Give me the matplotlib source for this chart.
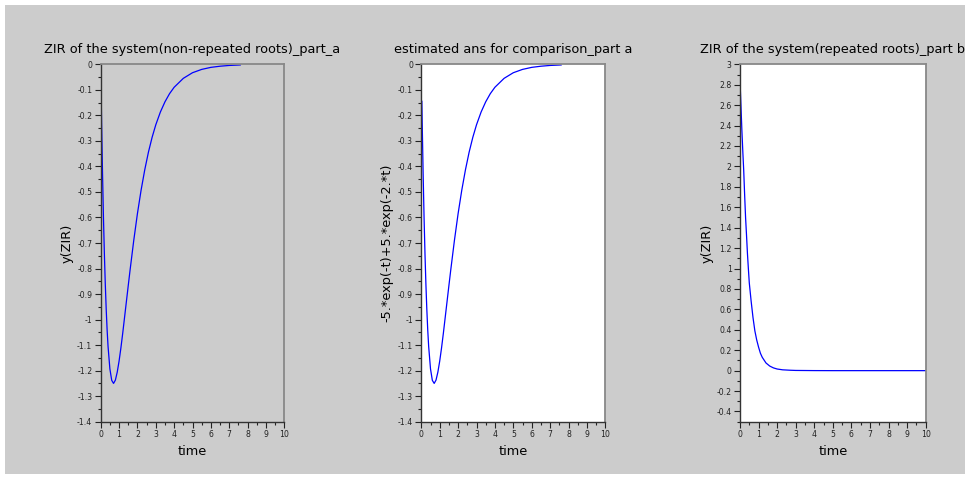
import numpy as np
import matplotlib
matplotlib.use("Agg")
import matplotlib.pyplot as plt
from matplotlib.patches import Rectangle
from matplotlib.ticker import MultipleLocator, FuncFormatter

# ---- data ----
t_a = [0, 0.05, 0.1, 0.15, 0.2, 0.25, 0.3, 0.35, 0.4, 0.5, 0.6, 0.7, 0.8, 0.9, 1.0,
       1.1, 1.2, 1.3, 1.4, 1.5, 1.6, 1.8, 2.0, 2.2, 2.4, 2.6, 2.8, 3.0, 3.25, 3.5,
       3.75, 4.0, 4.5, 5.0, 5.5, 6.0, 6.5, 7.0, 7.6]
y_a = [0, -0.232, -0.430, -0.600, -0.742, -0.861, -0.960, -1.041, -1.105, -1.193,
       -1.238, -1.250, -1.237, -1.206, -1.163, -1.111, -1.053, -0.991, -0.929,
       -0.867, -0.806, -0.690, -0.585, -0.493, -0.413, -0.344, -0.286, -0.237,
       -0.187, -0.147, -0.115, -0.090, -0.055, -0.033, -0.020, -0.012, -0.0075,
       -0.0045, -0.0025]

t_est = [0.03, 0.05, 0.1, 0.15, 0.2, 0.25, 0.3, 0.35, 0.4, 0.5, 0.6, 0.7, 0.8, 0.9, 1.0,
         1.1, 1.2, 1.3, 1.4, 1.5, 1.6, 1.8, 2.0, 2.2, 2.4, 2.6, 2.8, 3.0, 3.25, 3.5,
         3.75, 4.0, 4.5, 5.0, 5.5, 6.0, 6.5, 7.0, 7.6]
y_est = [-0.145, -0.232, -0.430, -0.600, -0.742, -0.861, -0.960, -1.041, -1.105, -1.193,
         -1.238, -1.250, -1.237, -1.206, -1.163, -1.111, -1.053, -0.991, -0.929,
         -0.867, -0.806, -0.690, -0.585, -0.493, -0.413, -0.344, -0.286, -0.237,
         -0.187, -0.147, -0.115, -0.090, -0.055, -0.033, -0.020, -0.012, -0.0075,
         -0.0045, -0.0025]

t_b = [0, 0.05, 0.1, 0.15, 0.2, 0.25, 0.3, 0.35, 0.4, 0.45, 0.5, 0.6, 0.7, 0.8, 0.9,
       1.0, 1.1, 1.2, 1.4, 1.6, 1.8, 2.0, 2.3, 2.7, 3.0, 4.0, 5.0, 6.0, 7.0, 8.0, 9.0, 10.0]
y_b = [2.84, 2.60, 2.36, 2.15, 1.96, 1.72, 1.50, 1.33, 1.15, 1.00, 0.86, 0.68, 0.52,
       0.39, 0.30, 0.23, 0.17, 0.13, 0.075, 0.045, 0.027, 0.016, 0.008, 0.004, 0.002,
       0.0005, 0, 0, 0, 0, 0, 0]

titles = ["ZIR of the system(non-repeated roots)_part_a",
          "estimated ans for comparison_part a",
          "ZIR of the system(repeated roots)_part b"]
ylabels = ["y(ZIR)", "-5.*exp(-t)+5.*exp(-2.*t)", "y(ZIR)"]
xlabel = "time"

# ---- figure ----
W, H = 965, 479
fig = plt.figure(figsize=(W / 100, H / 100), dpi=100)
fig.patch.set_facecolor("white")
GRAY = "#cccccc"
fig.add_artist(Rectangle((5 / W, 5 / H), 1 - 5 / W, (474 - 5) / H,
                         transform=fig.transFigure, facecolor=GRAY,
                         edgecolor="none", zorder=0))

def px_axes(left, right, top, bottom):
    return [left / W, 1 - bottom / H, (right - left) / W, (bottom - top) / H]

rects = [px_axes(100.7, 284.3, 64.3, 421.7),
         px_axes(421.3, 605.3, 64.3, 421.7),
         px_axes(740.0, 925.7, 64.3, 421.7)]
faces = [GRAY, "white", "white"]
series = [(t_a, y_a), (t_est, y_est), (t_b, y_b)]
ylims = [(-1.4, 0), (-1.4, 0), (-0.5, 3)]
ymaj = [0.1, 0.1, 0.2]
ymin = [0.05, 0.05, 0.1]
lab_x = [-0.145, -0.152, -0.144]

fmt = FuncFormatter(lambda v, p: "{:g}".format(round(v, 6)) if abs(v) > 1e-9 else "0")

for i in range(3):
    ax = fig.add_axes(rects[i])
    ax.set_facecolor(faces[i])
    x, y = series[i]
    ax.plot(x, y, color="#0000ff", lw=0.9)
    ax.set_xlim(0, 10)
    ax.set_ylim(*ylims[i])
    ax.xaxis.set_major_locator(MultipleLocator(1))
    ax.xaxis.set_minor_locator(MultipleLocator(0.5))
    ax.yaxis.set_major_locator(MultipleLocator(ymaj[i]))
    ax.yaxis.set_minor_locator(MultipleLocator(ymin[i]))
    ax.xaxis.set_major_formatter(fmt)
    ax.yaxis.set_major_formatter(fmt)
    if i == 2:
        ax.set_yticks([v for v in np.round(np.arange(-0.4, 3.01, 0.2), 2)])
    ax.tick_params(which="major", direction="out", length=4, width=0.8,
                   labelsize=5.6, colors="#222222", pad=2)
    ax.tick_params(which="minor", direction="out", length=2, width=0.8,
                   colors="#222222")
    for s in ["left", "bottom"]:
        ax.spines[s].set_color("#333333")
        ax.spines[s].set_linewidth(1.0)
    for s in ["top", "right"]:
        ax.spines[s].set_color("#888888")
        ax.spines[s].set_linewidth(1.3)
    ax.set_title(titles[i], fontsize=9.3, pad=8, color="black")
    ax.set_xlabel(xlabel, fontsize=9.3, labelpad=4)
    ax.set_ylabel(ylabels[i], fontsize=9.3)
    ax.yaxis.set_label_coords(lab_x[i], 0.5)

fig.savefig("out.png", dpi=100, facecolor=fig.get_facecolor())
